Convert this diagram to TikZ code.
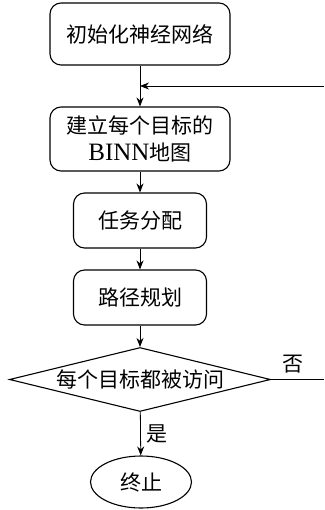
\documentclass[tikz,border=0pt]{standalone}
\usepackage{fontspec}
\setmainfont{Liberation Serif}
\newfontfamily\cjk{Noto Sans CJK SC}
\usetikzlibrary{shapes.geometric,arrows.meta}
\begin{document}
\begin{tikzpicture}[x=1pt,y=-1pt,
  box/.style={draw,line width=1.1pt,rounded corners=11pt,inner sep=0pt,align=center,font=\cjk\fontsize{21}{27.5}\selectfont},
  arr/.style={line width=0.8pt,-{Stealth[length=9pt,width=7pt]}},
  lbl/.style={font=\cjk\fontsize{21}{24}\selectfont,inner sep=0pt}]
\useasboundingbox (0,0) rectangle (324,510);
\node[box,minimum width=180pt,minimum height=62pt] (b1) at (140,34) {初始化神经网络};
\node[box,minimum width=180pt,minimum height=64pt] (b2) at (140,139) {建立每个目标的\\{\rmfamily\fontsize{25}{27.5}\selectfont BINN}地图};
\node[box,minimum width=133pt,minimum height=55pt] (b3) at (140,220.5) {任务分配};
\node[box,minimum width=133pt,minimum height=55pt] (b4) at (140,297.5) {路径规划};
\node[draw,diamond,line width=1.1pt,inner sep=0pt,aspect=4.1,minimum width=261pt,minimum height=64pt,font=\cjk\fontsize{21}{24}\selectfont] (d) at (140,379.5) {每个目标都被访问};
\node[draw,ellipse,line width=1.1pt,inner sep=0pt,minimum width=101pt,minimum height=52pt,font=\cjk\fontsize{21}{24}\selectfont] (e) at (141,482) {终止};
\coordinate (r1) at (324,379.5);
\coordinate (r2) at (324,86);
\coordinate (m) at (140,86);
\draw[arr] (b1) -- (b2);
\draw[arr] (r2) -- (m);
\draw[arr] (b2) -- (b3);
\draw[arr] (b3) -- (b4);
\draw[arr] (b4) -- (d);
\draw[arr] (d) -- (e);
\draw[line width=0.8pt] (d.east) -- (r1);
\node[lbl] (no) at (293,364) {否};
\node[lbl] (yes) at (157,434) {是};
\end{tikzpicture}
\end{document}
